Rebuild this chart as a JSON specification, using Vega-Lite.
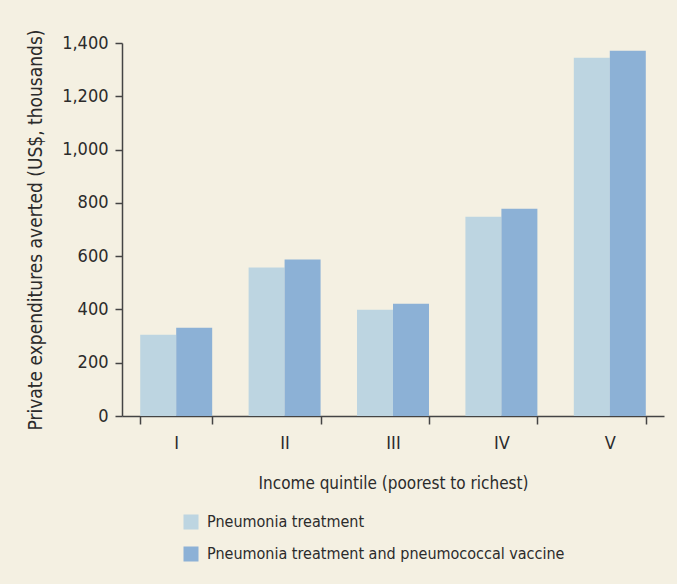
{
  "$schema": "https://vega.github.io/schema/vega-lite/v6.json",
  "width": 542,
  "height": 373,
  "autosize": {"type": "none"},
  "padding": {"left": 122, "top": 43, "right": 13, "bottom": 168},
  "background": "#f4f0e2",
  "data": {
    "values": [
      {"quintile": "I", "series": "Pneumonia treatment", "value": 305},
      {"quintile": "I", "series": "Pneumonia treatment and pneumococcal vaccine", "value": 331},
      {"quintile": "II", "series": "Pneumonia treatment", "value": 557},
      {"quintile": "II", "series": "Pneumonia treatment and pneumococcal vaccine", "value": 587},
      {"quintile": "III", "series": "Pneumonia treatment", "value": 399},
      {"quintile": "III", "series": "Pneumonia treatment and pneumococcal vaccine", "value": 421},
      {"quintile": "IV", "series": "Pneumonia treatment", "value": 748},
      {"quintile": "IV", "series": "Pneumonia treatment and pneumococcal vaccine", "value": 778},
      {"quintile": "V", "series": "Pneumonia treatment", "value": 1345},
      {"quintile": "V", "series": "Pneumonia treatment and pneumococcal vaccine", "value": 1371}
    ]
  },
  "mark": {"type": "bar"},
  "encoding": {
    "x": {
      "field": "quintile",
      "type": "nominal",
      "sort": ["I", "II", "III", "IV", "V"],
      "scale": {"paddingInner": 0.336, "paddingOuter": 0.168},
      "axis": {
        "title": "Income quintile (poorest to richest)",
        "labelAngle": 0,
        "tickBand": "extent",
        "tickSize": 8,
        "labelPadding": 10,
        "titlePadding": 23,
        "titleFontSize": 17
      }
    },
    "xOffset": {
      "field": "series",
      "type": "nominal",
      "scale": {"paddingInner": 0, "paddingOuter": 0}
    },
    "y": {
      "field": "value",
      "type": "quantitative",
      "scale": {"domain": [0, 1400], "nice": false},
      "axis": {
        "title": "Private expenditures averted (US$, thousands)",
        "values": [0, 200, 400, 600, 800, 1000, 1200, 1400],
        "format": ",.0f",
        "grid": false,
        "tickSize": 7,
        "labelPadding": 7,
        "titlePadding": 16,
        "titleFontSize": 19
      }
    },
    "color": {
      "field": "series",
      "type": "nominal",
      "scale": {
        "domain": ["Pneumonia treatment", "Pneumonia treatment and pneumococcal vaccine"],
        "range": ["#bdd5e1", "#8cb1d6"]
      },
      "legend": {
        "title": null,
        "orient": "none",
        "legendX": 61,
        "legendY": 471,
        "direction": "vertical",
        "symbolType": "square",
        "symbolSize": 225,
        "symbolStrokeWidth": 0,
        "symbolOpacity": 1,
        "labelOffset": 8,
        "rowPadding": 16,
        "labelLimit": 600
      }
    }
  },
  "config": {
    "view": {"stroke": null},
    "font": "DejaVu Sans Condensed, Roboto, sans-serif",
    "axis": {
      "labelFont": "DejaVu Sans Condensed, Roboto, sans-serif",
      "titleFont": "DejaVu Sans Condensed, Roboto, sans-serif",
      "labelFontSize": 18,
      "titleFontWeight": "normal",
      "labelColor": "#2b2b2b",
      "titleColor": "#2b2b2b",
      "domainColor": "#444444",
      "tickColor": "#444444",
      "domainWidth": 1.5,
      "tickWidth": 1.5
    },
    "legend": {
      "labelFont": "DejaVu Sans Condensed, Roboto, sans-serif",
      "labelFontSize": 16,
      "labelColor": "#2b2b2b"
    }
  }
}
